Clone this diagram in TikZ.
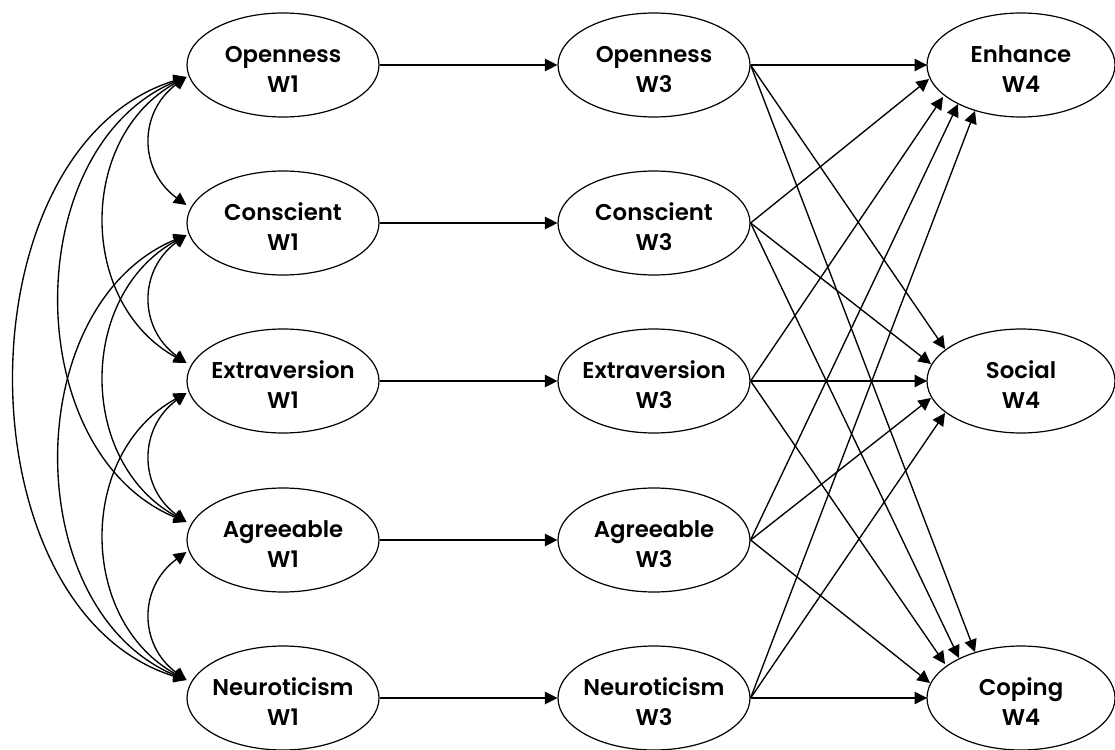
\documentclass[tikz,border=0pt]{standalone}
\usepackage{fontspec}
\setmainfont{Poppins}[UprightFont={* SemiBold}]
\usetikzlibrary{arrows.meta,calc,shapes.geometric}
\newcommand{\twolines}[2]{\rule{0pt}{26pt}\makebox[0pt]{#1}\\\makebox[0pt]{#2}}
\begin{document}
\begin{tikzpicture}[x=1pt,y=-1pt,
  var/.style={ellipse,draw,line width=1.2pt,minimum width=192pt,minimum height=104pt,
    inner sep=0pt,align=center,font=\fontsize{22.8}{30}\selectfont},
  outvar/.style={var,minimum width=188pt},
  conn/.style={line width=1.35pt,-{Triangle[length=12.5pt,width=12.5pt]}},
  cov/.style={line width=1.35pt,{Triangle[length=12.5pt,width=12.5pt]}-{Triangle[length=12.5pt,width=12.5pt]}}]
\useasboundingbox (0,0) rectangle (1115,749);
% W1 column
\node[var] (o1) at (283,65)  {\twolines{Openness}{W1}};
\node[var] (c1) at (283,223) {\twolines{Conscient}{W1}};
\node[var] (e1) at (283,381) {\twolines{Extraversion}{W1}};
\node[var] (a1) at (283,540) {\twolines{Agreeable}{W1}};
\node[var] (n1) at (283,698) {\twolines{Neuroticism}{W1}};
% W3 column
\node[var] (o3) at (654,65)  {\twolines{Openness}{W3}};
\node[var] (c3) at (654,223) {\twolines{Conscient}{W3}};
\node[var] (e3) at (654,381) {\twolines{Extraversion}{W3}};
\node[var] (a3) at (654,540) {\twolines{Agreeable}{W3}};
\node[var] (n3) at (654,698) {\twolines{Neuroticism}{W3}};
% W4 column
\node[outvar] (en) at (1021,65)  {\twolines{Enhance}{W4}};
\node[outvar] (so) at (1021,381) {\twolines{Social}{W4}};
\node[outvar] (co) at (1021,698) {\twolines{Coping}{W4}};
% anchors for covariances
\foreach \n in {o1,c1,e1,a1,n1}{
  \coordinate (\n u) at ($(\n.west)+(0,-18)$);
  \coordinate (\n d) at ($(\n.west)+(0,12)$);
}
% covariances (adjacent)
\foreach \a/\b in {o1/c1,c1/e1,e1/a1,a1/n1}
  \draw[cov] (\a d) .. controls +(-48,35) and +(-48,-35) .. (\b u);
% skip one
\foreach \a/\b in {o1/e1,c1/a1,e1/n1}
  \draw[cov] (\a d) .. controls +(-109,60) and +(-109,-60) .. (\b u);
% skip two
\foreach \a/\b in {o1/a1,c1/n1}
  \draw[cov] (\a d) .. controls +(-168,70) and +(-168,-70) .. (\b u);
% skip three
\draw[cov] (o1d) .. controls +(-228,70) and +(-228,-70) .. (n1u);
% stability paths
\foreach \a/\b in {o1/o3,c1/c3,e1/e3,a1/a3,n1/n3}
  \draw[conn] (\a) -- (\b);
% W3 -> W4
\foreach \s/\t/\dx/\dy in {
  o3/en/-94/0, c3/en/-92/14, e3/en/-78/32, a3/en/-63/39, n3/en/-46/46,
  o3/so/-76/-32, c3/so/-90/-17, e3/so/-94/0, a3/so/-90/17, n3/so/-76/32,
  o3/co/-46/-46, c3/co/-62/-40, e3/co/-76/-34, a3/co/-91/-15, n3/co/-94/0}
  \draw[conn] (\s.east) -- ($(\t.center)+(\dx,\dy)$);
\end{tikzpicture}
\end{document}
